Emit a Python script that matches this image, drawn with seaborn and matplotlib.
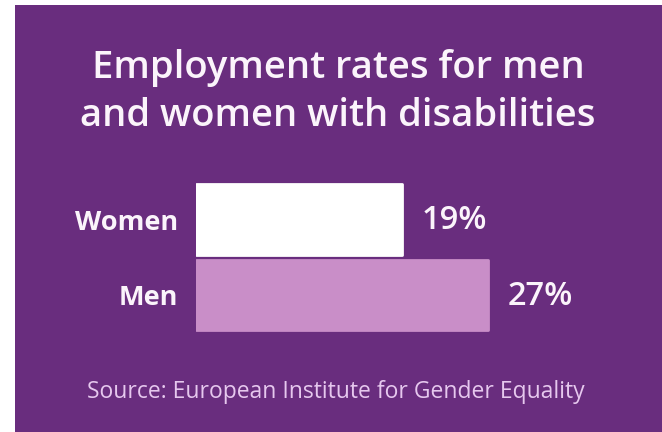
import matplotlib
matplotlib.use("Agg")
import matplotlib.pyplot as plt
from matplotlib.patches import Rectangle
import seaborn as sns
import pandas as pd

# Chart data
groups = ["Women", "Men"]
rates = [19, 27]
value_labels = ["19%", "27%"]

title_text = "Employment rates for men\nand women with disabilities"
source_text = "Source: European Institute for Gender Equality"

# Colours
panel_purple = "#692d7e"
bar_colors = ["#ffffff", "#c98ec8"]
text_white = "#fbf4fb"
source_color = "#e6c8ee"

sns.set_theme(style="white")
plt.rcParams["font.family"] = ["Open Sans", "DejaVu Sans"]

W, H = 662, 432
fig = plt.figure(figsize=(W / 100, H / 100), dpi=100, facecolor="white")

# Purple panel behind everything
fig.patches.append(Rectangle((15 / W, 0), 1 - 15 / W, 1 - 5 / H,
                             transform=fig.transFigure, facecolor=panel_purple,
                             edgecolor="none", zorder=-1))

# Axes placed so the bars start at x=196px
left_px, right_px, top_px, bot_px = 196, 650, 150, 370
ax = fig.add_axes([left_px / W, 1 - bot_px / H, (right_px - left_px) / W,
                   (bot_px - top_px) / H])
ax.set_facecolor("none")

df = pd.DataFrame({"group": groups, "rate": rates})
sns.barplot(data=df, x="rate", y="group", hue="group", palette=bar_colors,
            width=0.94, legend=False, ax=ax, saturation=1)

for patch in ax.patches:
    patch.set_edgecolor(patch.get_facecolor())
    patch.set_linewidth(2)
    patch.set_joinstyle("round")

px_per_unit = 10.83
ax.set_xlim(0, (right_px - left_px) / px_per_unit)
step = 75.5
ax.set_ylim(1 + (bot_px - 295) / step, -(219.5 - top_px) / step)

# Value labels, one per bar
for cont in ax.containers:
    for bar in cont:
        if bar is None:
            continue
        idx = int(round(bar.get_y() + bar.get_height() / 2))
        ax.annotate(value_labels[idx], (bar.get_width(), idx),
                    xytext=(14, -1), textcoords="offset points",
                    ha="left", va="center", color=text_white,
                    fontsize=23.5, fontweight="semibold")

for s in ax.spines.values():
    s.set_visible(False)
ax.set_xticks([])
ax.set_xlabel("")
ax.set_ylabel("")
ax.tick_params(axis="y", length=0, pad=13)
for lbl in ax.get_yticklabels():
    lbl.set_color(text_white)
    lbl.set_fontsize(19.5)
    lbl.set_fontweight("bold")

fig.text(338 / W, 1 - 92 / H, title_text, ha="center", va="center",
         color=text_white, fontsize=27.5, fontweight="semibold", linespacing=1.33)
fig.text(336 / W, 1 - 392 / H, source_text, ha="center", va="center",
         color=source_color, fontsize=16.5)

fig.savefig("out.png", dpi=100, facecolor="white")
